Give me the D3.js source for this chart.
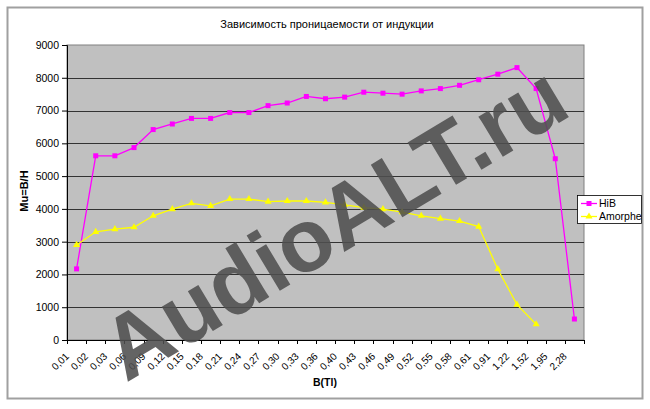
<!DOCTYPE html>
<html><head><meta charset="utf-8">
<script src="https://cdn.jsdelivr.net/npm/d3@7"></script>
<style>body{margin:0;background:#fff;} svg{display:block;font-family:"Liberation Sans",Arial,sans-serif;}</style>
</head><body>
<svg id="c" width="650" height="409"></svg>
<script>
const categories = ["0,01","0,02","0,03","0,06","0,09","0,12","0,15","0,18","0,21","0,24","0,27","0,30","0,33","0,36","0,40","0,43","0,46","0,49","0,52","0,55","0,58","0,61","0,91","1,22","1,52","1,95","2,28"];
const hib = [2170,5620,5620,5870,6420,6590,6760,6760,6940,6940,7150,7230,7430,7360,7410,7560,7530,7500,7600,7670,7770,7940,8110,8310,7670,5530,640];
const amorphe = [2900,3300,3380,3440,3790,3990,4170,4090,4300,4300,4220,4240,4240,4200,4120,4040,3990,3900,3790,3700,3630,3460,2160,1080,480];
const yTicks = [0,1000,2000,3000,4000,5000,6000,7000,8000,9000];
const seriesNames = ["HiB","Amorphe"];
const title = "Зависимость проницаемости от индукции";

const svg = d3.select("#c");
// chart area border
svg.append("rect").attr("x",7.5).attr("y",7.5).attr("width",635).attr("height",391)
  .attr("fill","#fff").attr("stroke","#a0a0a0").attr("stroke-width",2);

const L=67,R=584,T=45,B=340;
const x = d3.scaleBand().domain(categories).range([L,R]);
const y = d3.scaleLinear().domain([0,9000]).range([B,T]);

svg.append("rect").attr("x",L).attr("y",T).attr("width",R-L).attr("height",B-T)
  .attr("fill","#c0c0c0").attr("stroke","#808080").attr("stroke-width",1);

// gridlines
svg.append("g").selectAll("line").data(yTicks.filter(d=>d>0&&d<9000)).join("line")
  .attr("x1",L).attr("x2",R).attr("y1",d=>Math.round(y(d))+0.5).attr("y2",d=>Math.round(y(d))+0.5)
  .attr("stroke","#333").attr("stroke-width",1);

// y axis
const ya = svg.append("g").attr("transform",`translate(${L},0)`)
  .call(d3.axisLeft(y).tickValues(yTicks).tickSize(5).tickPadding(3).tickFormat(d3.format("d")));
ya.select(".domain").attr("stroke","#000");
ya.selectAll("line").attr("stroke","#000");
ya.selectAll("text").attr("font-size","10.5px").attr("fill","#000").attr("font-family","Liberation Sans, Arial");

// x axis
const xa = svg.append("g").attr("transform",`translate(0,${B})`)
  .call(d3.axisBottom(x).tickSize(0).tickFormat(""));
xa.select(".domain").attr("stroke","#000");
const bounds = categories.map((c)=>x(c)).concat([R]);
svg.append("g").selectAll("line").data(bounds).join("line")
  .attr("x1",d=>Math.round(d)+0.5).attr("x2",d=>Math.round(d)+0.5).attr("y1",B).attr("y2",B+4).attr("stroke","#000");
svg.append("g").selectAll("text").data(categories).join("text")
  .attr("transform",d=>`translate(${x(d)+x.bandwidth()/2-7},${B+17}) rotate(-45)`)
  .attr("text-anchor","end").attr("font-size","10px").attr("fill","#000").text(d=>d);

// axis titles
svg.append("text").attr("x",325).attr("y",386).attr("text-anchor","middle")
  .attr("font-size","10.5px").attr("font-weight","bold").text("B(Tl)");
svg.append("text").attr("transform","translate(28,191) rotate(-90)").attr("text-anchor","middle")
  .attr("font-size","11px").attr("font-weight","bold").text("Mu=B/H");
svg.append("text").attr("x",327).attr("y",28).attr("text-anchor","middle")
  .attr("font-size","11px").text(title);

const cx = (d,i)=>x(categories[i])+x.bandwidth()/2;
const line = d3.line().x((d,i)=>cx(d,i)).y(d=>y(d));
svg.append("path").datum(hib).attr("d",line).attr("fill","none").attr("stroke","#ff00ff").attr("stroke-width",1.3);
svg.append("path").datum(amorphe).attr("d",line).attr("fill","none").attr("stroke","#ffff00").attr("stroke-width",1.3);
svg.append("g").selectAll("rect").data(hib).join("rect")
  .attr("x",(d,i)=>cx(d,i)-2.5).attr("y",d=>y(d)-2.5).attr("width",5).attr("height",5).attr("fill","#ff00ff");
const tri = d3.symbol().type(d3.symbolTriangle).size(22);
svg.append("g").selectAll("path").data(amorphe).join("path")
  .attr("d",tri).attr("transform",(d,i)=>`translate(${cx(d,i)},${y(d)})`).attr("fill","#ffff00");

// legend
const lg = svg.append("g");
lg.append("rect").attr("x",577.5).attr("y",195.5).attr("width",64).attr("height",28).attr("fill","#fff").attr("stroke","#000").attr("stroke-width",0.8);
const colors = ["#ff00ff","#ffff00"];
seriesNames.forEach((s,i)=>{
  const yy = 203.5 + i*13;
  lg.append("line").attr("x1",581).attr("x2",597).attr("y1",yy).attr("y2",yy).attr("stroke",colors[i]).attr("stroke-width",1.3);
  if(i===0) lg.append("rect").attr("x",586.5).attr("y",yy-2.5).attr("width",5).attr("height",5).attr("fill",colors[i]);
  else lg.append("path").attr("d",tri).attr("transform",`translate(589,${yy})`).attr("fill",colors[i]);
  lg.append("text").attr("x",599).attr("y",yy+3.8).attr("font-size","10.5px").attr("fill","#000").text(s);
});

// watermark
svg.append("text").attr("transform","translate(334,222) rotate(-31)").attr("text-anchor","middle")
  .attr("dominant-baseline","central")
  .attr("font-size","89px").attr("font-weight","bold").attr("fill","#4e4e4e").attr("fill-opacity",0.88)
  .text("AudioALT.ru");
</script>
</body></html>
